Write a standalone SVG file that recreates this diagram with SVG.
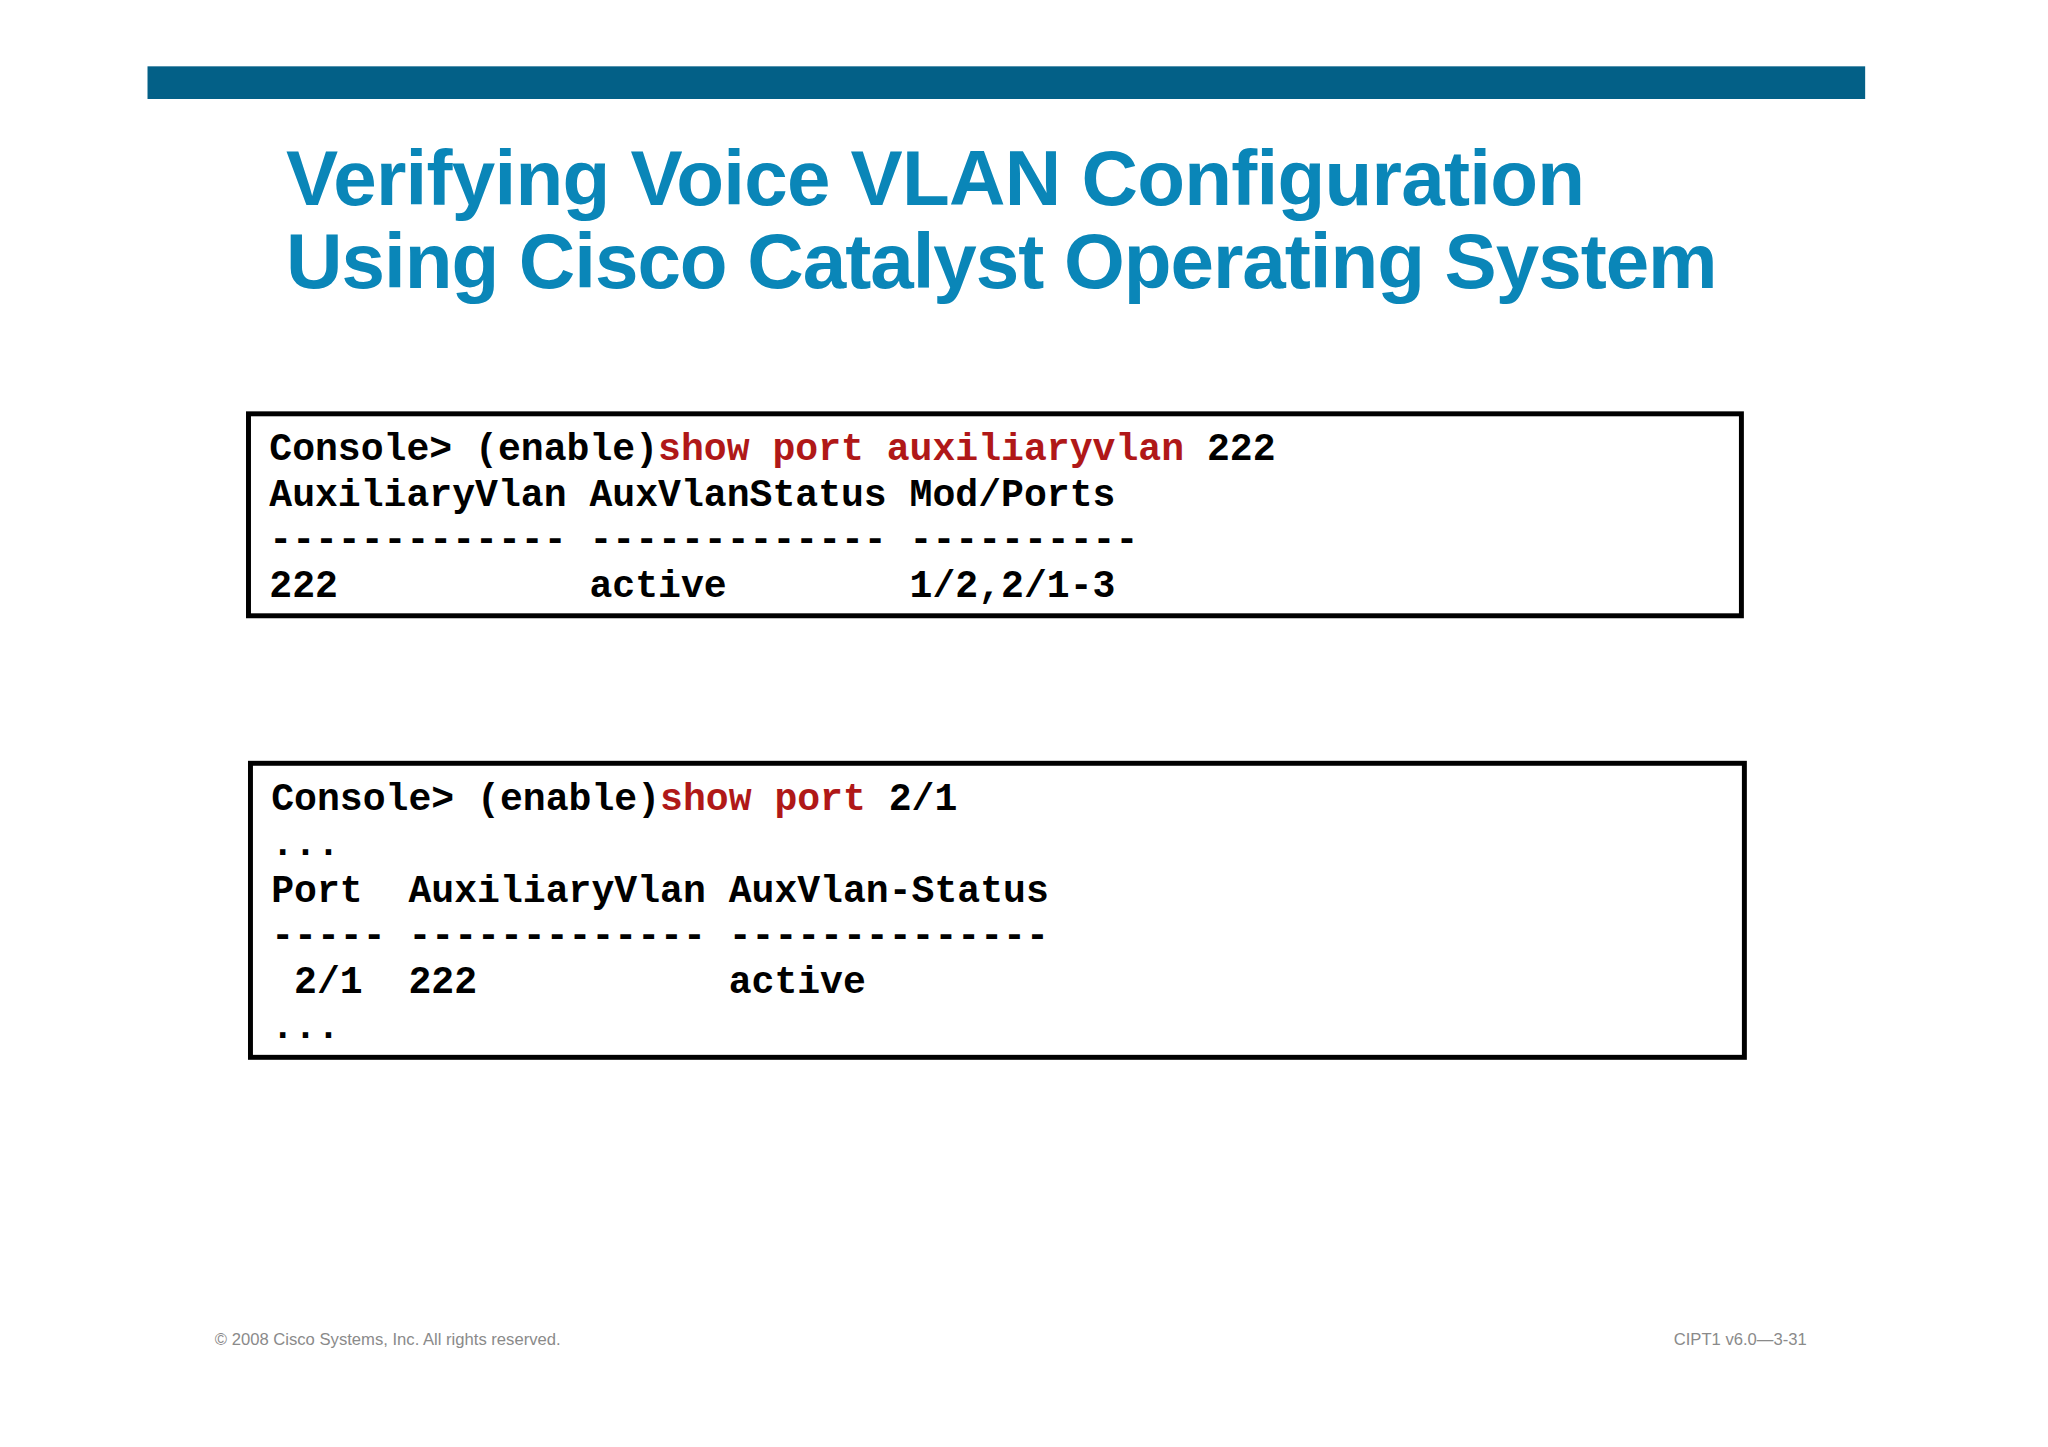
<svg xmlns="http://www.w3.org/2000/svg" width="2048" height="1447" viewBox="0 0 2048 1447">
<style>
.t{font-family:"Liberation Sans",Arial,sans-serif;font-weight:bold;font-size:79px;fill:#0a86b8}
.m{font-family:"Liberation Mono","Courier New",monospace;font-weight:bold;font-size:38.5px;fill:#000;white-space:pre}
.r{fill:#b01818}
.f{font-family:"Liberation Sans",Arial,sans-serif;font-size:16.8px;fill:#8a8a8a}
.box{fill:#fff;stroke:#000;stroke-width:5}
</style>
<rect width="2048" height="1447" fill="#fff"/>
<g transform="scale(0.99)">
<rect x="149" y="67" width="1735" height="33" fill="#036087"/>
<g id="title">
<text class="t" x="289" y="207" textLength="1312">Verifying Voice VLAN Configuration</text>
<text class="t" x="289" y="291" textLength="1446">Using Cisco Catalyst Operating System</text>
</g>
<g id="box1">
<rect class="box" x="251" y="418" width="1508" height="204"/>
<text class="m" x="272" y="465" xml:space="preserve">Console&gt; (enable)<tspan class="r">show port auxiliaryvlan</tspan> 222</text>
<text class="m" x="272" y="511" xml:space="preserve">AuxiliaryVlan AuxVlanStatus Mod/Ports</text>
<text class="m" x="272" y="557" xml:space="preserve">------------- ------------- ----------</text>
<text class="m" x="272" y="603" xml:space="preserve">222           active        1/2,2/1-3</text>
</g>
<g id="box2">
<rect class="box" x="253" y="771" width="1509" height="297"/>
<text class="m" x="274" y="818" xml:space="preserve">Console&gt; (enable)<tspan class="r">show port</tspan> 2/1</text>
<text class="m" x="274" y="864" xml:space="preserve">...</text>
<text class="m" x="274" y="911" xml:space="preserve">Port  AuxiliaryVlan AuxVlan-Status</text>
<text class="m" x="274" y="957" xml:space="preserve">----- ------------- --------------</text>
<text class="m" x="274" y="1003" xml:space="preserve"> 2/1  222           active</text>
<text class="m" x="274" y="1049" xml:space="preserve">...</text>
</g>
<g id="footer">
<text class="f" x="217" y="1359">© 2008 Cisco Systems, Inc. All rights reserved.</text>
<text class="f" x="1825" y="1359" text-anchor="end">CIPT1 v6.0—3-31</text>
</g>
</g>
<g id="connectors"/>
</svg>
